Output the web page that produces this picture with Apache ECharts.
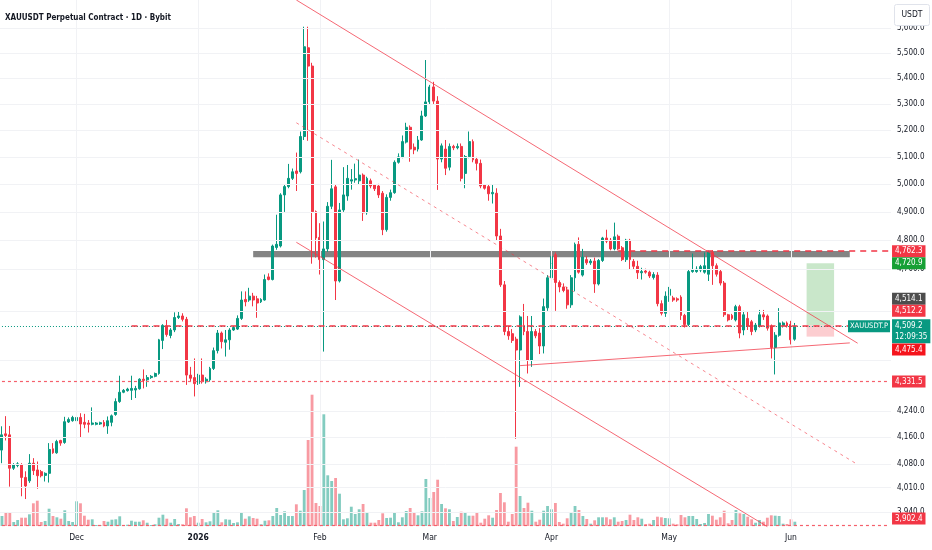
<!DOCTYPE html>
<html>
<head>
<meta charset="utf-8">
<title>XAUUSDT Perpetual Contract · 1D · Bybit</title>
<script src="https://cdn.jsdelivr.net/npm/echarts@6.0.0/dist/echarts.min.js"></script>
<style>
  html, body { margin: 0; padding: 0; background: #fff; }
  #chart { width: 932px; height: 550px; }
</style>
</head>
<body>
<div id="chart"></div>
<script>
var FONT = "'DejaVu Sans Condensed', 'Liberation Sans', sans-serif";

// daily candles, first one on 2025-11-12: [open, close, low, high]
var firstDay = '2025-11-12';
var dayCount = 227;   // candles plus the empty days on the right
var candles = [
  [4121,4167,4082,4193],[4170,4165,4150,4224],[4167,4067,4013,4194],[4067,4077,4062,4082],
  [4075,4080,4070,4085],[4077,4040,3985,4082],[4040,4015,3977,4058],[4030,4082,4024,4109],
  [4082,4060,4047,4097],[4062,4045,4007,4087],[4057,4045,4040,4062],[4046,4052,4028,4055],
  [4052,4123,4025,4142],[4125,4113,4110,4142],[4113,4147,4110,4152],[4150,4142,4134,4152],
  [4144,4207,4140,4222],[4206,4214,4203,4220],[4210,4220,4207,4225],[4210,4220,4207,4258],
  [4220,4200,4160,4233],[4205,4199,4187,4231],[4203,4199,4174,4212],[4199,4203,4196,4251],
  [4199,4203,4196,4206],[4200,4204,4197,4207],[4205,4194,4190,4212],[4194,4210,4170,4223],
  [4205,4225,4193,4229],[4229,4269,4225,4279],[4269,4298,4265,4350],[4298,4304,4295,4308],
  [4303,4308,4300,4312],[4304,4310,4274,4350],[4305,4310,4280,4318],[4309,4339,4306,4342],
  [4339,4335,4310,4370],[4337,4344,4315,4352],[4344,4348,4340,4352],[4348,4357,4345,4360],
  [4357,4465,4353,4468],[4463,4512,4435,4516],[4510,4482,4475,4530],[4479,4497,4470,4503],
  [4497,4538,4490,4555],[4538,4543,4533,4557],[4543,4532,4525,4552],[4532,4352,4321,4540],
  [4352,4342,4330,4378],[4344,4325,4285,4405],[4325,4352,4321,4356],[4352,4331,4325,4405],
  [4331,4339,4325,4345],[4337,4373,4331,4378],[4373,4430,4368,4440],[4430,4487,4421,4497],
  [4487,4459,4437,4492],[4457,4465,4411,4497],[4465,4497,4433,4503],[4497,4505,4494,4510],
  [4500,4535,4497,4545],[4535,4596,4530,4625],[4598,4590,4575,4625],[4596,4609,4590,4637],
  [4609,4596,4575,4620],[4600,4586,4537,4610],[4590,4598,4586,4602],[4596,4665,4594,4682],
  [4674,4665,4662,4686],[4665,4780,4662,4785],[4775,4786,4767,4890],[4780,4961,4775,4967],
  [4961,4991,4900,4997],[4991,5021,4985,5074],[5021,5045,5015,5057],[5048,5039,4975,5116],
  [5045,5176,5039,5195],[5176,5525,5163,5606],[5521,5448,5160,5606],[5448,4901,4719,5461],
  [4901,4808,4740,4905],[4810,4733,4682,4860],[4733,4770,4427,4866],[4770,4920,4760,4935],
  [4920,4983,4910,5089],[4990,4660,4596,5000],[4660,4907,4655,4932],[4907,4961,4900,5062],
  [4957,5021,4940,5070],[5011,5016,4980,5055],[5015,5020,5005,5075],[5012,5033,5000,5090],
  [5033,4897,4868,5039],[4897,5021,4890,5027],[5012,4993,4985,5020],[4997,4983,4975,5000],
  [4993,4961,4950,5001],[4967,4837,4818,4975],[4837,4952,4830,4963],[4952,4969,4940,4980],
  [4969,5080,4965,5087],[5080,5100,5075,5113],[5100,5157,5095,5180],[5155,5211,5150,5228],
  [5211,5129,5082,5218],[5136,5126,5110,5150],[5129,5163,5120,5178],[5163,5254,5160,5274],
  [5254,5308,5250,5472],[5308,5366,5300,5374],[5366,5311,5300,5386],[5311,5092,4979,5330],
  [5092,5141,5080,5150],[5129,5058,5033,5163],[5062,5139,5050,5150],[5139,5134,5125,5145],
  [5134,5139,5128,5150],[5139,5021,5010,5150],[5039,5101,4985,5107],[5101,5157,5095,5195],
  [5157,5089,5080,5165],[5091,5076,5050,5100],[5076,4993,4985,5090],[4997,4985,4980,5000],
  [4991,4965,4940,5000],[4965,4970,4930,5000],[4967,4815,4800,4985],[4815,4647,4640,4840],
  [4647,4492,4480,4660],[4492,4478,4465,4510],[4485,4463,4455,4500],[4467,4432,4155,4475],
  [4432,4540,4315,4545],[4512,4492,4480,4583],[4492,4400,4357,4543],[4400,4492,4378,4543],
  [4492,4478,4470,4500],[4487,4445,4419,4503],[4445,4574,4421,4601],[4570,4671,4560,4680],
  [4671,4744,4606,4750],[4750,4655,4560,4758],[4655,4640,4622,4662],[4640,4628,4622,4652],
  [4630,4580,4567,4640],[4580,4671,4570,4680],[4671,4786,4625,4792],[4786,4690,4685,4810],
  [4680,4742,4675,4770],[4733,4722,4715,4745],[4722,4728,4715,4735],[4728,4650,4620,4740],
  [4650,4730,4645,4735],[4730,4808,4725,4812],[4808,4797,4790,4837],[4800,4770,4765,4808],
  [4770,4812,4765,4862],[4814,4770,4765,4820],[4774,4733,4728,4780],[4733,4800,4725,4805],
  [4800,4733,4700,4805],[4727,4710,4700,4735],[4710,4688,4667,4729],[4688,4692,4665,4705],
  [4694,4690,4685,4702],[4690,4677,4670,4695],[4672,4682,4665,4690],[4680,4584,4575,4690],
  [4584,4552,4545,4595],[4552,4609,4540,4625],[4612,4632,4590,4640],[4603,4596,4590,4610],
  [4600,4596,4590,4605],[4606,4545,4530,4612],[4545,4515,4505,4550],[4515,4692,4510,4700],
  [4692,4697,4688,4754],[4692,4700,4688,4710],[4697,4709,4690,4715],[4690,4712,4685,4758],
  [4683,4758,4660,4764],[4758,4712,4647,4766],[4712,4683,4675,4720],[4692,4653,4645,4700],
  [4653,4547,4540,4660],[4547,4530,4525,4550],[4545,4535,4530,4550],[4530,4574,4525,4580],
  [4574,4487,4470,4580],[4497,4547,4480,4560],[4535,4510,4497,4556],[4524,4492,4480,4530],
  [4497,4513,4490,4520],[4510,4547,4505,4563],[4547,4540,4530,4563],[4543,4503,4495,4548],
  [4510,4440,4405,4515],[4440,4480,4354,4490],[4480,4520,4475,4569],[4511,4520,4505,4525],
  [4520,4510,4505,4525],[4515,4465,4450,4527],[4467,4509.2,4462,4520]
];

// volume per candle (thousand XAUT)
var volumes = [
  10,13.3,13.3,4,6,8.3,8.3,11.7,22.7,25.3,
  4,5,17.3,10,8.7,7.3,15.7,5,4,24.7,
  22.7,10.3,6.3,6.7,1,1,5,4.3,6.3,6.7,
  9.7,1,1.3,5.3,4.3,4.3,5.7,3.3,1,1.7,
  8.3,11.3,7.3,3.3,7,2,1.7,17.7,8.7,10,
  3.3,7,3.7,4.7,13.3,15.7,3.7,6.7,6.3,3,
  3.7,13,7.3,9.7,8,7.3,1.7,5.3,5.7,10,
  18,11,14.7,10,10,21.7,15.3,36,86,131.3,
  23,20,111.7,50.7,45,48,32.3,6.7,7.7,19.3,
  12,16.7,22,13,3.3,3.3,6,12.7,8,8.3,
  13.3,3.7,8.7,15,18,13.3,10.7,14.7,47,28,
  34,46.3,22,17.7,16.7,5,9,14.3,14,10.3,
  10.3,13.3,3.3,7.3,10.7,8.3,16,33,23.7,4.3,
  12,79.3,30,18,23.3,15.3,4.3,6.3,15.3,20,
  16.7,23,4,2.3,7.7,13.7,20,16,10,7,
  2.3,5.7,8.7,8.7,8.7,6.7,8.7,4.3,5,6,
  11.3,6,8.7,7.3,2,2.3,6,9.3,8.7,8,
  7.7,2.3,1.7,11,8.7,10,10,7,2,3,
  12,10.3,6.3,8.7,15.3,2.7,6,16,12.7,12,
  9.3,6.7,3.3,6,4.3,8.3,10.7,10.3,10,2.3,
  2,6.7,4.3
];

var priceTicks = [5600, 5500, 5400, 5300, 5200, 5100, 5000, 4900, 4800, 4700, 4240, 4160, 4080, 4010, 3940];
var hiddenTicks = [4560, 4400];
var monthNames = ['Jan', 'Feb', 'Mar', 'Apr', 'May', 'Jun', 'Jul', 'Aug', 'Sep', 'Oct', 'Nov', 'Dec'];

// drawn levels
var resistPrice = 4762.3, targetPrice = 4720.9, entryMark = 4514.1, entryPrice = 4512.2;
var lastPrice = 4509.2, stopPrice = 4475.4, supportPrice = 4331.5, lowPrice = 3902.4;
var countdown = '12:09:35';
var zoneBand = [4741, 4763], zoneDays = [64, 216];
var positionDays = [205, 212];
var resistFrom = 157, entryFrom = 33;
// channel and wedge lines: [dayIndex, price]
var channelUpper = [[75, 5716], [218, 4454]];
var channelMid = [[75, 5228], [218, 4078]];
var channelLower = [[75, 4793], [195, 3898]];
var risingLine = [[132, 4382], [216, 4455]];

var dates = [];
var d0 = new Date(firstDay + 'T00:00:00Z');
for (var k = 0; k < dayCount; k++) {
  dates.push(new Date(d0.getTime() + k * 86400000).toISOString().slice(0, 10));
}
var lastIdx = dayCount - 1;

function fmt(v) {
  var p = Number(v).toFixed(1).split('.');
  return p[0].replace(/\B(?=(\d{3})+(?!\d))/g, ',') + '.' + p[1];
}

var UP = '#089981', DOWN = '#f23645';

var volData = volumes.map(function (v, i) {
  var up = candles[i][1] >= candles[i][0];
  return { value: v, itemStyle: { color: up ? 'rgba(8,153,129,0.5)' : 'rgba(242,54,69,0.5)' } };
});

function tag(bg, offsetY, text) {
  return {
    show: true, position: 'end', distance: 3, formatter: text,
    backgroundColor: bg, color: '#fff', fontSize: 8, fontFamily: FONT,
    lineHeight: 10, padding: [1, 3, 1, 3], offset: [0, offsetY]
  };
}
function ray(from, price, lineStyle, label) {
  return [{ coord: [dates[from], price], lineStyle: lineStyle, label: label || { show: false } },
          { coord: [dates[lastIdx], price] }];
}
function seg(pts, lineStyle) {
  return [{ coord: [dates[pts[0][0]], pts[0][1]], lineStyle: lineStyle, label: { show: false } },
          { coord: [dates[pts[1][0]], pts[1][1]] }];
}

var none = { color: 'rgba(0,0,0,0)', width: 1 };
var gridStyle = { color: '#f1f2f5', width: 1, type: 'solid' };
var markLines = [];

priceTicks.concat(hiddenTicks).forEach(function (v) {
  markLines.push({ yAxis: v, lineStyle: gridStyle, label: { show: false } });
});
dates.forEach(function (d) {
  if (d.slice(8) === '01') markLines.push({ xAxis: d, lineStyle: gridStyle, label: { show: false } });
});

var chLine = { color: 'rgba(242,54,69,0.75)', width: 1, type: 'solid' };
var dotRed = { color: '#f5606c', width: 1.2, type: [3, 3] };
markLines.push(seg(channelUpper, chLine));
markLines.push(seg(channelLower, chLine));
markLines.push(seg(channelMid, { color: 'rgba(242,54,69,0.6)', width: 1, type: [3, 4] }));
markLines.push(seg(risingLine, chLine));

markLines.push(ray(0, lastPrice, { color: UP, width: 1, type: [1, 2] },
  { show: true, position: 'end', distance: 3, formatter: fmt(lastPrice) + '\n' + countdown,
    backgroundColor: UP, color: '#fff', fontSize: 8, fontFamily: FONT,
    lineHeight: 11, padding: [1, 3, 1, 3], offset: [0, 5] }));
markLines.push(ray(0, lastPrice, none,
  { show: true, position: 'insideEnd', distance: -1, formatter: 'XAUUSDT.P',
    backgroundColor: UP, color: '#fff', fontSize: 7.5, fontFamily: FONT,
    lineHeight: 10, padding: [1, 2, 1, 2] }));
markLines.push(ray(resistFrom, resistPrice, { color: DOWN, width: 1.5, type: [6, 5] }, tag(DOWN, 0, fmt(resistPrice))));
markLines.push(ray(0, targetPrice, none, tag('#17a035', 0, fmt(targetPrice))));
markLines.push(ray(0, entryMark, none, tag('#4d4d4d', -26, fmt(entryMark))));
markLines.push(ray(entryFrom, entryPrice, { color: DOWN, width: 1.5, type: [6, 5] }, tag(DOWN, -14.5, fmt(entryPrice))));
markLines.push(ray(0, stopPrice, none, tag('#f5141c', 13, fmt(stopPrice))));
markLines.push(ray(0, supportPrice, dotRed, tag(DOWN, 0, fmt(supportPrice))));
markLines.push(ray(0, lowPrice, dotRed, tag(DOWN, -6.5, fmt(lowPrice))));

var chart = echarts.init(document.getElementById('chart'));
chart.setOption({
  animation: false,
  textStyle: { fontFamily: FONT },
  title: {
    text: 'XAUUSDT Perpetual Contract · 1D · Bybit', left: 0, top: 9,
    textStyle: { fontSize: 8, fontWeight: 'bold', color: '#131722', fontFamily: FONT }
  },
  grid: [
    { left: 0, top: 0, width: 891, height: 527 },
    { left: 0, top: 386, width: 891, height: 140 }
  ],
  xAxis: [
    { type: 'category', gridIndex: 0, data: dates, boundaryGap: true,
      axisLine: { show: false }, axisTick: { show: false }, axisLabel: { show: false }, splitLine: { show: false } },
    { type: 'category', gridIndex: 1, data: dates, boundaryGap: true,
      axisLine: { show: false }, axisTick: { show: false }, splitLine: { show: false },
      axisLabel: {
        margin: 7, color: '#131722', fontSize: 8.5, fontFamily: FONT,
        interval: function (i, v) { return v.slice(8) === '01'; },
        formatter: function (v) {
          var m = +v.slice(5, 7);
          return m === 1 ? '{y|' + v.slice(0, 4) + '}' : monthNames[m - 1];
        },
        rich: { y: { fontWeight: 'bold', fontSize: 8.5, color: '#131722', fontFamily: FONT } }
      } }
  ],
  yAxis: [
    { type: 'log', logBase: 10, gridIndex: 0, position: 'right', min: 3897, max: 5716,
      axisLine: { show: false }, axisTick: { show: false }, splitLine: { show: false },
      axisLabel: { customValues: priceTicks, formatter: fmt, margin: 6, color: '#131722', fontSize: 8, fontFamily: FONT } },
    { type: 'value', gridIndex: 1, min: 0, max: 140, show: false, splitLine: { show: false } }
  ],
  series: [
    { type: 'bar', name: 'Volume', xAxisIndex: 1, yAxisIndex: 1, data: volData,
      barWidth: '72%', silent: true, z: 1 },
    { type: 'candlestick', name: 'XAUUSDT.P', xAxisIndex: 0, yAxisIndex: 0, data: candles,
      barWidth: '62%', z: 3,
      itemStyle: { color: UP, color0: DOWN, borderColor: UP, borderColor0: DOWN, borderWidth: 1 },
      markArea: {
        silent: true,
        data: [
          [{ coord: [dates[zoneDays[0]], zoneBand[1]], itemStyle: { color: 'rgba(110,110,110,0.85)' } },
           { coord: [dates[zoneDays[1]], zoneBand[0]] }],
          [{ coord: [dates[positionDays[0]], targetPrice], itemStyle: { color: 'rgba(76,175,80,0.3)' } },
           { coord: [dates[positionDays[1]], entryPrice] }],
          [{ coord: [dates[positionDays[0]], entryPrice], itemStyle: { color: 'rgba(242,54,69,0.25)' } },
           { coord: [dates[positionDays[1]], stopPrice] }]
        ]
      },
      markLine: {
        silent: true, symbol: ['none', 'none'], precision: 1,
        label: { show: false },
        data: markLines
      }
    }
  ],
  graphic: [
    { type: 'rect', z: 100, shape: { x: 894.5, y: 4.5, width: 35, height: 21, r: 2 },
      style: { fill: '#fff', stroke: '#e0e3eb', lineWidth: 1 } },
    { type: 'text', z: 101, x: 912, y: 15,
      style: { text: 'USDT', align: 'center', verticalAlign: 'middle', fontSize: 8.5, fill: '#131722', fontFamily: FONT } }
  ]
});
</script>
</body>
</html>
